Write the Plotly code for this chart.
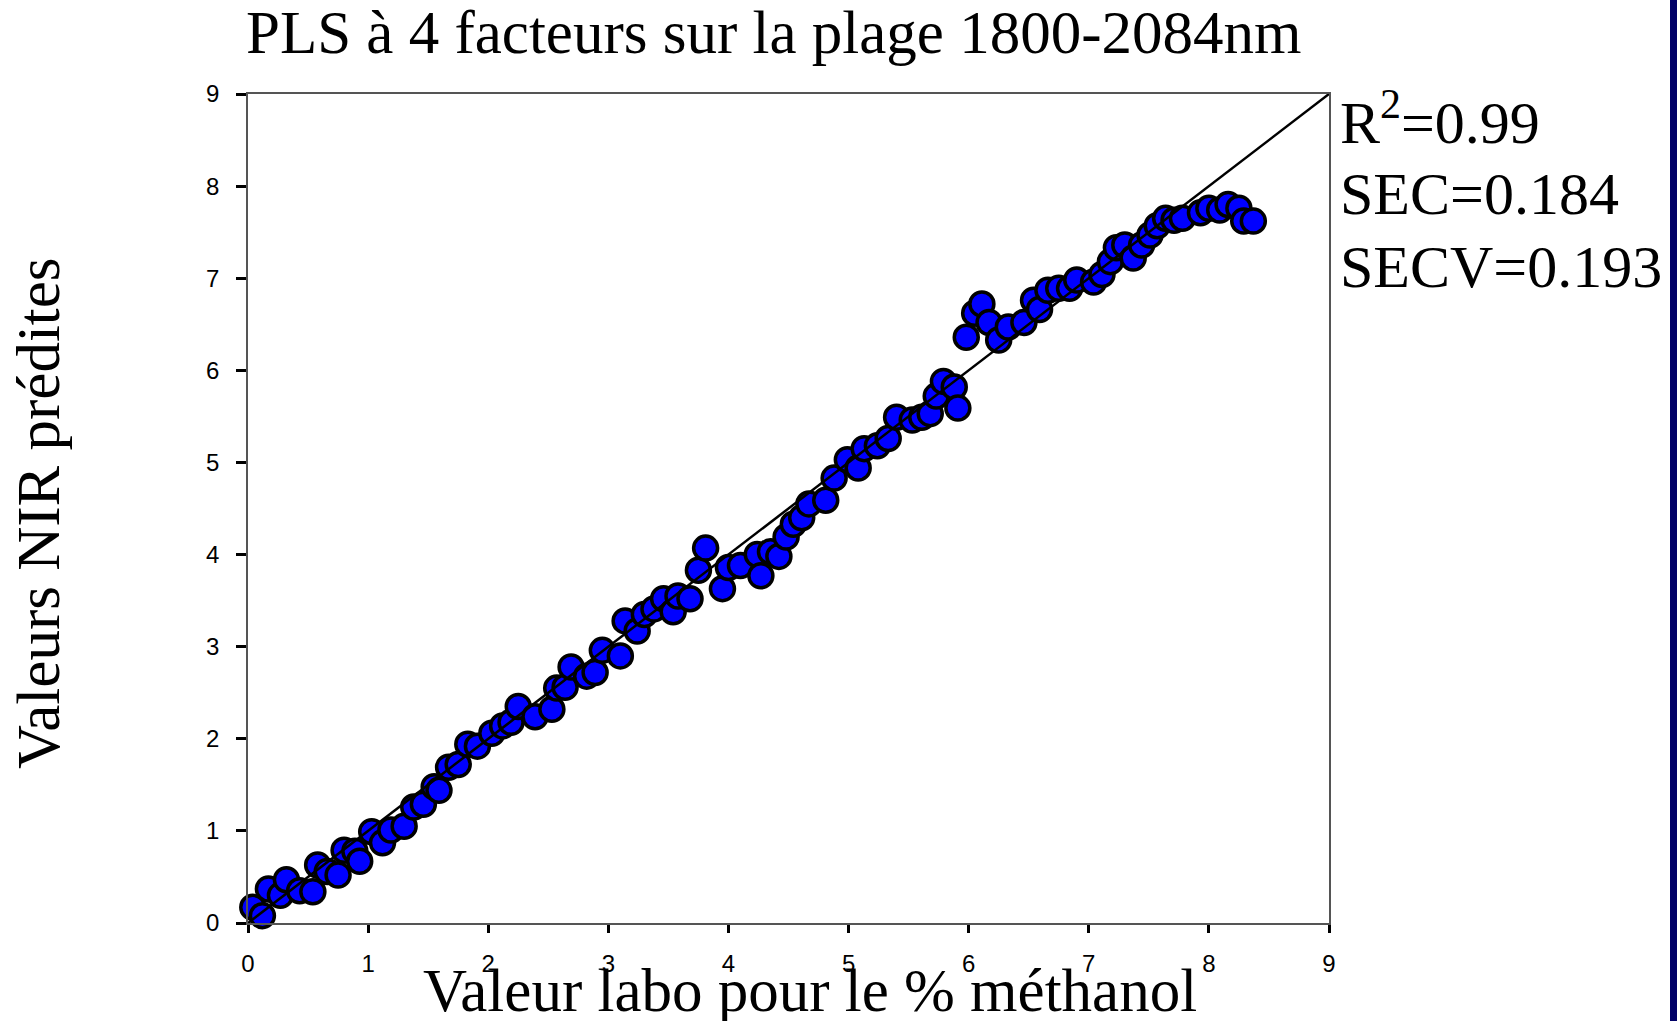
import plotly.graph_objects as go

# Lab reference values (% methanol) and NIR-predicted values
labo = [0.04, 0.12, 0.17, 0.27, 0.32, 0.43, 0.54, 0.58, 0.66, 0.75, 0.80, 0.89, 0.93,
        1.03, 1.12, 1.19, 1.30, 1.38, 1.46, 1.55, 1.59, 1.67, 1.75, 1.83, 1.91,
        2.03, 2.12, 2.19, 2.25, 2.39, 2.53, 2.57, 2.64, 2.69, 2.82, 2.89, 2.95,
        3.10, 3.14, 3.24, 3.30, 3.38, 3.46, 3.54, 3.58, 3.68, 3.75, 3.81, 3.95,
        4.00, 4.10, 4.24, 4.27, 4.35, 4.42, 4.48, 4.54, 4.61, 4.67, 4.81, 4.88, 4.99,
        5.08, 5.13, 5.24, 5.33, 5.40, 5.53, 5.61, 5.68, 5.73, 5.79, 5.88, 5.91, 5.98,
        6.05, 6.11, 6.17, 6.25, 6.33, 6.46, 6.54, 6.59, 6.66, 6.75, 6.84, 6.90,
        7.04, 7.11, 7.18, 7.23, 7.30, 7.37, 7.44, 7.51, 7.57, 7.64, 7.71, 7.78,
        7.93, 8.00, 8.09, 8.16, 8.25, 8.29, 8.37]
nir = [0.17, 0.08, 0.37, 0.30, 0.47, 0.35, 0.34, 0.63, 0.56, 0.52, 0.79, 0.78, 0.67,
       0.99, 0.87, 1.01, 1.05, 1.26, 1.29, 1.48, 1.44, 1.69, 1.72, 1.94, 1.92,
       2.06, 2.14, 2.18, 2.35, 2.24, 2.32, 2.55, 2.56, 2.78, 2.68, 2.72, 2.96,
       2.90, 3.28, 3.17, 3.35, 3.41, 3.52, 3.38, 3.55, 3.52, 3.83, 4.07, 3.63,
       3.86, 3.88, 4.00, 3.77, 4.03, 3.98, 4.19, 4.33, 4.40, 4.55, 4.59, 4.83, 5.03,
       4.94, 5.15, 5.18, 5.26, 5.49, 5.46, 5.49, 5.53, 5.72, 5.88, 5.82, 5.59, 6.36,
       6.62, 6.72, 6.52, 6.33, 6.47, 6.52, 6.76, 6.66, 6.87, 6.89, 6.89, 6.98,
       6.96, 7.04, 7.18, 7.33, 7.36, 7.22, 7.36, 7.47, 7.57, 7.65, 7.63, 7.65,
       7.71, 7.76, 7.74, 7.80, 7.76, 7.62, 7.62]
ref_line = [0, 9]
tick_vals = [0, 1, 2, 3, 4, 5, 6, 7, 8, 9]

title_text = "PLS à 4 facteurs sur la plage 1800-2084nm"
x_title = "Valeur labo pour le % méthanol"
y_title = "Valeurs NIR prédites"
stats = ["R<sup>2</sup>=0.99", "SEC=0.184", "SECV=0.193"]

W, H = 1677, 1021
L, R, T, B = 248, 348, 94, 98
pw, ph = W - L - R, H - T - B

def px_x(p):
    return (p - L) / pw

def px_y(p):
    return (H - B - p) / ph

fig = go.Figure()
fig.add_trace(go.Scatter(
    x=labo, y=nir, mode="markers", cliponaxis=False,
    marker=dict(symbol="circle", size=24, color="#0000FF",
                line=dict(color="black", width=3.5)),
    showlegend=False, hoverinfo="x+y"))
fig.add_trace(go.Scatter(
    x=ref_line, y=ref_line, mode="lines",
    line=dict(color="black", width=2.5), showlegend=False, hoverinfo="skip"))

serif = "Liberation Serif, Times New Roman, serif"
sans = "Liberation Sans, Arial, sans-serif"

axis_common = dict(range=[0, 9], tickvals=tick_vals, showgrid=False, zeroline=False,
                   showline=True, linecolor="#555555", linewidth=1.5, mirror=True,
                   ticks="outside", tickcolor="black", tickwidth=3,
                   tickfont=dict(family=sans, size=24, color="black"))
fig.update_xaxes(**axis_common, ticklen=8, ticklabelstandoff=10)
fig.update_yaxes(**axis_common, ticklen=10, ticklabelstandoff=12)

ann = []
ann.append(dict(text=title_text, x=px_x(773), y=px_y(-3), xref="paper", yref="paper",
                xanchor="center", yanchor="top", showarrow=False,
                font=dict(family=serif, size=61, color="black")))
ann.append(dict(text=x_title, x=px_x(810), y=px_y(990), xref="paper", yref="paper",
                xanchor="center", yanchor="middle", showarrow=False,
                font=dict(family=serif, size=61, color="black")))
ann.append(dict(text=y_title, x=px_x(38), y=px_y(513), xref="paper", yref="paper",
                xanchor="center", yanchor="middle", showarrow=False, textangle=-90,
                font=dict(family=serif, size=61, color="black")))
stat_tops = [79, 159, 232]
for s, top in zip(stats, stat_tops):
    ann.append(dict(text=s, x=px_x(1338), y=px_y(top), xref="paper", yref="paper",
                    xanchor="left", yanchor="top", showarrow=False,
                    font=dict(family=serif, size=60, color="black")))

fig.update_layout(
    width=W, height=H,
    margin=dict(l=L, r=R, t=T, b=B, pad=0),
    paper_bgcolor="white", plot_bgcolor="white",
    annotations=ann,
    shapes=[dict(type="rect", xref="paper", yref="paper",
                 x0=px_x(1670), x1=px_x(1680), y0=px_y(1025), y1=px_y(-5),
                 fillcolor="#000066", line=dict(width=0), layer="above")],
)

fig.write_html("out.html")
